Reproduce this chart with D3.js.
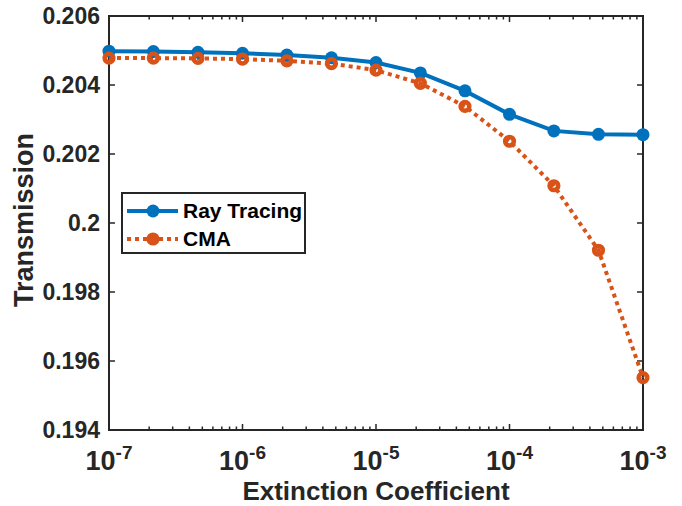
<!DOCTYPE html>
<html>
<head>
<meta charset="utf-8">
<script src="https://cdn.jsdelivr.net/npm/d3@7"></script>
<style>
body { margin: 0; background: #fff; }
svg { display: block; font-family: "Liberation Sans", Arial, sans-serif; font-weight: bold; }
</style>
</head>
<body>
<svg id="chart"></svg>
<script>
var width = 682;
var height = 506;

// data
var extinction = [1e-7, 2.15e-7, 4.64e-7, 1e-6, 2.15e-6, 4.64e-6, 1e-5, 2.15e-5, 4.64e-5, 1e-4, 2.15e-4, 4.64e-4, 1e-3];
var rayTracing = [0.20498, 0.20497, 0.20495, 0.20492, 0.20487, 0.20479, 0.20465, 0.20435, 0.20383, 0.20315, 0.20267, 0.20257, 0.20256];
var cma = [0.20478, 0.20478, 0.20477, 0.20475, 0.20470, 0.20462, 0.20443, 0.20405, 0.20338, 0.20237, 0.20108, 0.19921, 0.19552];
var seriesNames = ["Ray Tracing", "CMA"];
var yTicks = [0.194, 0.196, 0.198, 0.2, 0.202, 0.204, 0.206];
var xTicks = [1e-7, 1e-6, 1e-5, 1e-4, 1e-3];

var blue = "#0072BD";
var orange = "#D95319";
var axisColor = "#262626";

// plot area (window.top is reserved, so other names)
var plotLeft = 109, plotRight = 643, plotTop = 16, plotBottom = 430;

var svg = d3.select("#chart")
.attr("width", width)
.attr("height", height);

var x = d3.scaleLog().domain([1e-7, 1e-3]).range([plotLeft, plotRight]);
var y = d3.scaleLinear().domain([0.194, 0.206]).range([plotBottom, plotTop]);

// minor ticks on the log axis
var minor = [];
for (var e = -7; e < -3; e++) {
	for (var k = 2; k <= 9; k++) minor.push(k * Math.pow(10, e));
}

var ticks = svg.append("g")
.attr("stroke", axisColor)
.attr("stroke-width", 1.5);

minor.forEach(function (v) {
	var px = x(v);
	ticks.append("line").attr("x1", px).attr("x2", px).attr("y1", plotBottom).attr("y2", plotBottom - 3.5);
	ticks.append("line").attr("x1", px).attr("x2", px).attr("y1", plotTop).attr("y2", plotTop + 3.5);
});
xTicks.forEach(function (v) {
	var px = x(v);
	ticks.append("line").attr("x1", px).attr("x2", px).attr("y1", plotBottom).attr("y2", plotBottom - 6);
	ticks.append("line").attr("x1", px).attr("x2", px).attr("y1", plotTop).attr("y2", plotTop + 6);
});
yTicks.forEach(function (v) {
	var py = y(v);
	ticks.append("line").attr("x1", plotLeft).attr("x2", plotLeft + 6).attr("y1", py).attr("y2", py);
	ticks.append("line").attr("x1", plotRight).attr("x2", plotRight - 6).attr("y1", py).attr("y2", py);
});

// box
svg.append("rect")
.attr("x", plotLeft)
.attr("y", plotTop)
.attr("width", plotRight - plotLeft)
.attr("height", plotBottom - plotTop)
.attr("fill", "none")
.attr("stroke", axisColor)
.attr("stroke-width", 2);

// y tick labels
svg.append("g").selectAll("text")
.data(yTicks)
.enter().append("text")
.attr("x", plotLeft - 9)
.attr("y", function (d) { return y(d); })
.attr("dy", "0.36em")
.attr("text-anchor", "end")
.style("font-size", "23px")
.style("fill", axisColor)
.text(function (d) { return d === 0.2 ? "0.2" : d3.format(".3f")(d); });

// x tick labels (10^n)
var xl = svg.append("g").selectAll("text")
.data(xTicks)
.enter().append("text")
.attr("x", function (d) { return x(d); })
.attr("y", 470)
.attr("text-anchor", "middle")
.style("fill", axisColor);
xl.append("tspan").style("font-size", "27px").text("10");
xl.append("tspan")
.attr("dy", -11)
.style("font-size", "19px")
.text(function (d) { return "-" + Math.round(-Math.log10(d)); });

// axis titles
svg.append("text")
.attr("x", (plotLeft + plotRight) / 2)
.attr("y", 500)
.attr("text-anchor", "middle")
.style("font-size", "26px")
.style("fill", axisColor)
.text("Extinction Coefficient");

svg.append("text")
.attr("transform", "translate(33," + ((plotTop + plotBottom) / 2 - 3) + ") rotate(-90)")
.attr("text-anchor", "middle")
.style("font-size", "27px")
.style("fill", axisColor)
.text("Transmission");

// lines
var line = d3.line()
.x(function (d, i) { return x(extinction[i]); })
.y(function (d) { return y(d); });

svg.append("path")
.datum(cma)
.attr("d", line)
.attr("fill", "none")
.attr("stroke", orange)
.attr("stroke-width", 4)
.attr("stroke-dasharray", "4,4");

svg.append("path")
.datum(rayTracing)
.attr("d", line)
.attr("fill", "none")
.attr("stroke", blue)
.attr("stroke-width", 4);

svg.append("g").selectAll("circle")
.data(rayTracing)
.enter().append("circle")
.attr("cx", function (d, i) { return x(extinction[i]); })
.attr("cy", function (d) { return y(d); })
.attr("r", 6.5)
.attr("fill", blue);

svg.append("g").selectAll("circle")
.data(cma)
.enter().append("circle")
.attr("cx", function (d, i) { return x(extinction[i]); })
.attr("cy", function (d) { return y(d); })
.attr("r", 4.3)
.attr("fill", "none")
.attr("stroke", orange)
.attr("stroke-width", 4.6);

// legend
var legend = svg.append("g");
legend.append("rect")
.attr("x", 122)
.attr("y", 193)
.attr("width", 183)
.attr("height", 60)
.attr("fill", "#fff")
.attr("stroke", axisColor)
.attr("stroke-width", 2);

var rows = [
	{ name: seriesNames[0], color: blue, dash: null, filled: true, cy: 211 },
	{ name: seriesNames[1], color: orange, dash: "4,4", filled: false, cy: 239 }
];
rows.forEach(function (r) {
	legend.append("line")
	.attr("x1", 127).attr("x2", 178)
	.attr("y1", r.cy).attr("y2", r.cy)
	.attr("stroke", r.color)
	.attr("stroke-width", 4)
	.attr("stroke-dasharray", r.dash);
	if (r.filled) {
		legend.append("circle").attr("cx", 153).attr("cy", r.cy).attr("r", 6.5).attr("fill", r.color);
	} else {
		legend.append("circle").attr("cx", 153).attr("cy", r.cy).attr("r", 4.3)
		.attr("fill", "none").attr("stroke", r.color).attr("stroke-width", 4.6);
	}
	legend.append("text")
	.attr("x", 183)
	.attr("y", r.cy + 7)
	.style("font-size", "21px")
	.style("fill", "#000")
	.text(r.name);
});
</script>
</body>
</html>
